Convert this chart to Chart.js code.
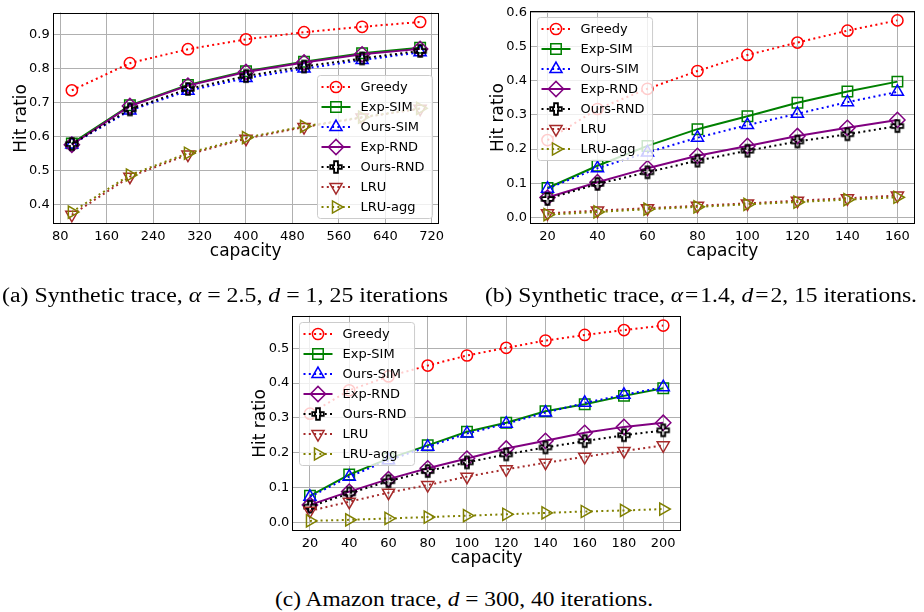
<!DOCTYPE html>
<html><head><meta charset="utf-8">
<script src="https://cdn.jsdelivr.net/npm/chart.js@4.4.1/dist/chart.umd.min.js"></script>
<style>
html,body{margin:0;padding:0;background:#fff}
body{width:924px;height:612px;position:relative;overflow:hidden}
canvas{position:absolute;display:block}
.cap{position:absolute;font-family:"Liberation Serif","DejaVu Serif",serif;font-size:20px;line-height:20px;white-space:nowrap;color:#000;transform-origin:0 0}
.cap i{font-style:italic}
</style></head><body>
<canvas id="ca" width="462" height="262" style="left:0px;top:0px;width:462px;height:262px"></canvas>
<canvas id="cb" width="462" height="262" style="left:462px;top:0px;width:462px;height:262px"></canvas>
<canvas id="cc" width="450" height="264" style="left:240px;top:305px;width:450px;height:264px"></canvas>
<div class="cap" id="capA" style="left:2px;top:285px">(a) Synthetic trace, <i>α</i> = 2.5, <i>d</i> = 1, 25 iterations</div>
<div class="cap" id="capB" style="left:485px;top:285px">(b) Synthetic trace, <i>α</i>&#8202;=&#8202;1.4, <i>d</i>&#8202;=&#8202;2, 15 iterations.</div>
<div class="cap" id="capC" style="left:275px;top:589px">(c) Amazon trace, <i>d</i> = 300, 40 iterations.</div>
<script>
// ---------------- data ----------------
const seriesNames = ['Greedy', 'Exp-SIM', 'Ours-SIM', 'Exp-RND', 'Ours-RND', 'LRU', 'LRU-agg'];

// (a) Synthetic trace, alpha = 2.5
const capacityA = [100, 200, 300, 400, 500, 600, 700];
const greedyA  = [0.736, 0.816, 0.857, 0.886, 0.907, 0.923, 0.937];
const expSimA  = [0.580, 0.692, 0.752, 0.792, 0.820, 0.845, 0.861];
const oursSimA = [0.577, 0.677, 0.735, 0.772, 0.800, 0.825, 0.848];
const expRndA  = [0.576, 0.690, 0.750, 0.790, 0.818, 0.842, 0.858];
const oursRndA = [0.578, 0.680, 0.740, 0.778, 0.806, 0.830, 0.852];
const lruA     = [0.370, 0.482, 0.547, 0.594, 0.628, 0.656, 0.682];
const lruAggA  = [0.378, 0.487, 0.551, 0.597, 0.630, 0.657, 0.683];
const xTicksA = [80, 160, 240, 320, 400, 480, 560, 640, 720];
const yTicksA = [0.4, 0.5, 0.6, 0.7, 0.8, 0.9];

// (b) Synthetic trace, alpha = 1.4
const capacityB = [20, 40, 60, 80, 100, 120, 140, 160];
const greedyB  = [0.226, 0.317, 0.376, 0.428, 0.475, 0.511, 0.546, 0.576];
const expSimB  = [0.086, 0.151, 0.209, 0.258, 0.296, 0.335, 0.368, 0.397];
const oursSimB = [0.084, 0.144, 0.190, 0.233, 0.270, 0.303, 0.337, 0.367];
const expRndB  = [0.058, 0.103, 0.144, 0.180, 0.209, 0.238, 0.262, 0.285];
const oursRndB = [0.054, 0.098, 0.132, 0.166, 0.195, 0.222, 0.243, 0.267];
const lruB     = [0.012, 0.020, 0.027, 0.034, 0.041, 0.049, 0.056, 0.064];
const lruAggB  = [0.008, 0.016, 0.024, 0.031, 0.038, 0.045, 0.052, 0.059];
const xTicksB = [20, 40, 60, 80, 100, 120, 140, 160];
const yTicksB = [0.0, 0.1, 0.2, 0.3, 0.4, 0.5, 0.6];

// (c) Amazon trace
const capacityC = [20, 40, 60, 80, 100, 120, 140, 160, 180, 200];
const greedyC  = [0.312, 0.379, 0.419, 0.450, 0.479, 0.501, 0.522, 0.538, 0.552, 0.565];
const expSimC  = [0.076, 0.137, 0.183, 0.221, 0.260, 0.286, 0.319, 0.339, 0.363, 0.385];
const oursSimC = [0.073, 0.131, 0.178, 0.217, 0.255, 0.283, 0.315, 0.343, 0.366, 0.388];
const expRndC  = [0.050, 0.088, 0.124, 0.155, 0.183, 0.212, 0.234, 0.257, 0.274, 0.286];
const oursRndC = [0.045, 0.083, 0.118, 0.147, 0.172, 0.195, 0.215, 0.233, 0.250, 0.264];
const lruC     = [0.033, 0.059, 0.085, 0.107, 0.131, 0.152, 0.171, 0.188, 0.205, 0.221];
const lruAggC  = [0.004, 0.007, 0.011, 0.015, 0.019, 0.023, 0.027, 0.031, 0.034, 0.038];
const xTicksC = [20, 40, 60, 80, 100, 120, 140, 160, 180, 200];
const yTicksC = [0.0, 0.1, 0.2, 0.3, 0.4, 0.5];

// ---------------- styles ----------------
function makePlus(size, lw, color) {
  const c = document.createElement('canvas');
  const S = Math.ceil(size + lw * 2 + 2);
  c.width = S; c.height = S;
  const g = c.getContext('2d');
  const h = size / 2, a = size / 6, m = S / 2;
  const pts = [[-h,-a],[-a,-a],[-a,-h],[a,-h],[a,-a],[h,-a],[h,a],[a,a],[a,h],[-a,h],[-a,a],[-h,a]];
  g.beginPath();
  pts.forEach((p, i) => i ? g.lineTo(m + p[0], m + p[1]) : g.moveTo(m + p[0], m + p[1]));
  g.closePath();
  g.lineWidth = lw; g.strokeStyle = color; g.lineJoin = 'miter';
  g.stroke();
  return c;
}
const DOT = [2, 3.3];
const plusMarker = makePlus(11.5, 1.8, '#000000');
const STY = [
  {color: '#ff0000', dash: DOT, marker: 'circle',   r: 5.6, rot: 0},
  {color: '#008000', dash: [],  marker: 'rect',     r: 7.4, rot: 0},
  {color: '#0000ff', dash: DOT, marker: 'triangle', r: 7,   rot: 0},
  {color: '#800080', dash: [],  marker: 'rectRot',  r: 7.6, rot: 0},
  {color: '#000000', dash: DOT, marker: plusMarker, r: 6,   rot: 0},
  {color: '#a52a2a', dash: DOT, marker: 'triangle', r: 7,   rot: 180},
  {color: '#808000', dash: DOT, marker: 'triangle', r: 7,   rot: 90}
];

function buildDatasets(xs, series) {
  return series.map((vals, i) => ({
    label: seriesNames[i],
    data: xs.map((xv, j) => ({x: xv, y: vals[j]})),
    borderColor: STY[i].color,
    borderWidth: 2,
    borderDash: STY[i].dash,
    borderCapStyle: 'butt',
    pointStyle: STY[i].marker,
    pointRadius: STY[i].r,
    pointHoverRadius: STY[i].r,
    pointRotation: STY[i].rot,
    pointBorderColor: STY[i].color,
    pointBackgroundColor: 'rgba(0,0,0,0)',
    pointBorderWidth: 1.5,
    fill: false,
    tension: 0,
    order: series.length - i
  }));
}

const framePlusLegend = {
  id: 'framePlusLegend',
  afterDatasetsDraw(chart, args, o) {
    const ctx = chart.ctx, a = chart.chartArea;
    ctx.save();
    ctx.setLineDash([]);
    ctx.strokeStyle = '#000'; ctx.lineWidth = 1;
    const L = Math.round(a.left) + 0.5, T = Math.round(a.top) + 0.5;
    const R = Math.round(a.right) - 0.5, B = Math.round(a.bottom) - 0.5;
    ctx.strokeRect(L, T, R - L, B - T);
    // legend inside plot area
    ctx.font = '13px "DejaVu Sans"';
    const items = chart.data.datasets;
    let tw = 0;
    items.forEach(d => { tw = Math.max(tw, ctx.measureText(d.label).width); });
    const w = o.textX + tw + o.padRight;
    const h = o.rowTop * 2 + (items.length - 1) * o.rowH;
    let x, y;
    if (o.corner === 'lower right') { x = a.right - o.inset - w; y = a.bottom - o.inset - h; }
    else { x = a.left + o.inset; y = a.top + o.inset; }
    x = Math.round(x) + 0.5; y = Math.round(y) + 0.5;
    const rr = 3;
    ctx.beginPath();
    ctx.moveTo(x + rr, y); ctx.lineTo(x + w - rr, y); ctx.arcTo(x + w, y, x + w, y + rr, rr);
    ctx.lineTo(x + w, y + h - rr); ctx.arcTo(x + w, y + h, x + w - rr, y + h, rr);
    ctx.lineTo(x + rr, y + h); ctx.arcTo(x, y + h, x, y + h - rr, rr);
    ctx.lineTo(x, y + rr); ctx.arcTo(x, y, x + rr, y, rr);
    ctx.closePath();
    ctx.fillStyle = 'rgba(255,255,255,0.8)';
    ctx.fill();
    ctx.strokeStyle = '#cccccc'; ctx.lineWidth = 1;
    ctx.stroke();
    items.forEach((d, i) => {
      const cy = y + o.rowTop + i * o.rowH;
      ctx.strokeStyle = d.borderColor; ctx.lineWidth = d.borderWidth; ctx.lineCap = 'butt';
      ctx.setLineDash(d.borderDash || []);
      ctx.beginPath(); ctx.moveTo(x + o.h0, cy); ctx.lineTo(x + o.h1, cy); ctx.stroke();
      ctx.setLineDash([]);
      ctx.fillStyle = 'rgba(0,0,0,0)';
      ctx.strokeStyle = d.pointBorderColor; ctx.lineWidth = d.pointBorderWidth;
      Chart.helpers.drawPoint(ctx, {pointStyle: d.pointStyle, rotation: d.pointRotation || 0,
        radius: d.pointRadius, borderWidth: d.pointBorderWidth}, x + o.hm, cy);
      ctx.fillStyle = '#000'; ctx.textBaseline = 'middle'; ctx.textAlign = 'left';
      ctx.font = '13px "DejaVu Sans"';
      ctx.fillText(d.label, x + o.textX, cy + 0.5);
    });
    ctx.restore();
  }
};

function makeChart(id, xs, series, xTicks, yTicks, cfg) {
  const ctx = document.getElementById(id);
  return new Chart(ctx, {
    type: 'line',
    data: {datasets: buildDatasets(xs, series)},
    plugins: [framePlusLegend],
    options: {
      responsive: false,
      animation: false,
      events: [],
      layout: {padding: cfg.pad},
      plugins: {
        legend: {display: false},
        tooltip: {enabled: false},
        framePlusLegend: Object.assign({rowTop: 11.5, rowH: 20, h0: 4, h1: 33, hm: 18.5, textX: 43, padRight: 8, inset: 6.5}, cfg.legend)
      },
      scales: {
        x: {
          type: 'linear', min: cfg.xMin, max: cfg.xMax,
          afterBuildTicks: s => { s.ticks = xTicks.map(v => ({value: v})); },
          afterFit: s => { s.height = cfg.xH; },
          ticks: {autoSkip: false, maxRotation: 0, padding: 4.5, color: '#000',
            font: {family: 'DejaVu Sans', size: 13}, callback: v => String(v)},
          grid: {color: '#b0b0b0', lineWidth: 1, drawTicks: false},
          border: {display: false},
          title: {display: true, text: 'capacity', color: '#000',
            font: {family: 'DejaVu Sans', size: 17}, padding: {top: 0, bottom: 0}}
        },
        y: {
          type: 'linear', min: cfg.yMin, max: cfg.yMax,
          afterBuildTicks: s => { s.ticks = yTicks.map(v => ({value: v})); },
          afterFit: s => { s.width = cfg.yW; },
          ticks: {autoSkip: false, padding: 3, color: '#000',
            font: {family: 'DejaVu Sans', size: 13}, callback: v => Number(v).toFixed(1)},
          grid: {color: '#b0b0b0', lineWidth: 1, drawTicks: false},
          border: {display: false},
          title: {display: true, text: 'Hit ratio', color: '#000',
            font: {family: 'DejaVu Sans', size: 17}, padding: {top: cfg.yTitlePad, bottom: 0}}
        }
      }
    }
  });
}

makeChart('ca', capacityA, [greedyA, expSimA, oursSimA, expRndA, oursRndA, lruA, lruAggA], xTicksA, yTicksA, {
  pad: {left: 0, top: 12.5, right: 23.3, bottom: 0}, yW: 52.7, xH: 37.7,
  xMin: 67, xMax: 732, yMin: 0.342, yMax: 0.965, yTitlePad: 11.3,
  legend: {corner: 'lower right'}
});
makeChart('cb', capacityB, [greedyB, expSimB, oursSimB, expRndB, oursRndB, lruB, lruAggB], xTicksB, yTicksB, {
  pad: {left: 0, top: 8.6, right: 4, bottom: 0}, yW: 68, xH: 37.6,
  xMin: 13, xMax: 167, yMin: -0.0204, yMax: 0.604, yTitlePad: 26.8,
  legend: {corner: 'upper left'}
});
makeChart('cc', capacityC, [greedyC, expSimC, oursSimC, expRndC, oursRndC, lruC, lruAggC], xTicksC, yTicksC, {
  pad: {left: 0, top: 10, right: 5.7, bottom: 0}, yW: 52.3, xH: 38,
  xMin: 11, xMax: 209, yMin: -0.025, yMax: 0.593, yTitlePad: 10,
  legend: {corner: 'upper left'}
});

function fitCaptions() {
  [['capA', 446], ['capB', 432], ['capC', 378]].forEach(([id, tw]) => {
    const el = document.getElementById(id);
    el.style.transform = 'none';
    const w = el.getBoundingClientRect().width;
    if (w > 0) el.style.transform = 'scaleX(' + (tw / w) + ')';
  });
}
fitCaptions();
if (document.fonts && document.fonts.ready) document.fonts.ready.then(fitCaptions);
</script>
</body></html>
